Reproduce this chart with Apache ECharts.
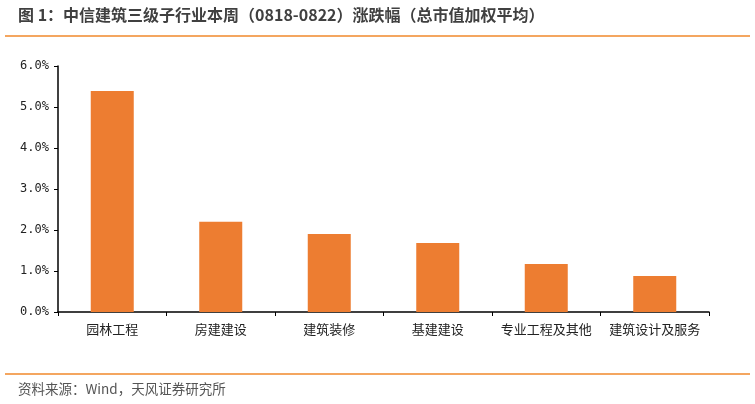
<!DOCTYPE html>
<html><head><meta charset="utf-8">
<script src="https://cdn.jsdelivr.net/npm/echarts@6/dist/echarts.min.js"></script>
<style>html,body{margin:0;padding:0;background:#fff}#c{width:755px;height:404px}</style>
</head><body><div id="c"></div>
<script>
var categories = ['园林工程','房建建设','建筑装修','基建建设','专业工程及其他','建筑设计及服务'];
var values = [5.39, 2.20, 1.90, 1.68, 1.17, 0.88];
var yTicks = [0,1,2,3,4,5,6];
var titleText = '图 1：中信建筑三级子行业本周（0818-0822）涨跌幅（总市值加权平均）';
var sourceText = '资料来源：Wind，天风证券研究所';

var chart = echarts.init(document.getElementById('c'), null, {renderer:'canvas'});
chart.setOption({
  animation:false,
  backgroundColor:'#fff',
  grid:{left:58,right:46,top:66,bottom:92,containLabel:false},
  graphic:[
    {type:'text',left:18,top:7,style:{text:titleText,fontSize:16,fontWeight:'bold',fill:'#404040',fontFamily:'"Noto Sans CJK SC", sans-serif'}},
    {type:'line',shape:{x1:5,y1:36,x2:750,y2:36},style:{stroke:'#F0882B',lineWidth:1.5}},
    {type:'line',shape:{x1:5,y1:374,x2:750,y2:374},style:{stroke:'#F0882B',lineWidth:1.5}},
    {type:'text',left:18,top:382,style:{text:sourceText,fontSize:13.5,fill:'#555',fontFamily:'"Noto Sans CJK SC", sans-serif'}}
  ],
  xAxis:{type:'category',data:categories,
    axisLine:{lineStyle:{color:'#000',width:1.5}},
    axisTick:{show:true,alignWithLabel:false,length:4,lineStyle:{color:'#000'}},
    axisLabel:{color:'#222',fontSize:13,margin:11,interval:0,fontFamily:'"Noto Sans CJK SC", sans-serif'}},
  yAxis:{type:'value',min:0,max:6,interval:1,
    axisLine:{show:true,lineStyle:{color:'#000',width:1.5}},
    axisTick:{show:true,inside:false,length:4,lineStyle:{color:'#000'}},
    splitLine:{show:false},
    axisLabel:{color:'#222',fontSize:12,margin:9,fontFamily:'"DejaVu Sans Mono", monospace',
      formatter:function(v){return v.toFixed(1)+'%';}}},
  series:[{type:'bar',data:values,barWidth:43,itemStyle:{color:'#ED7D31'}}]
});
</script></body></html>
